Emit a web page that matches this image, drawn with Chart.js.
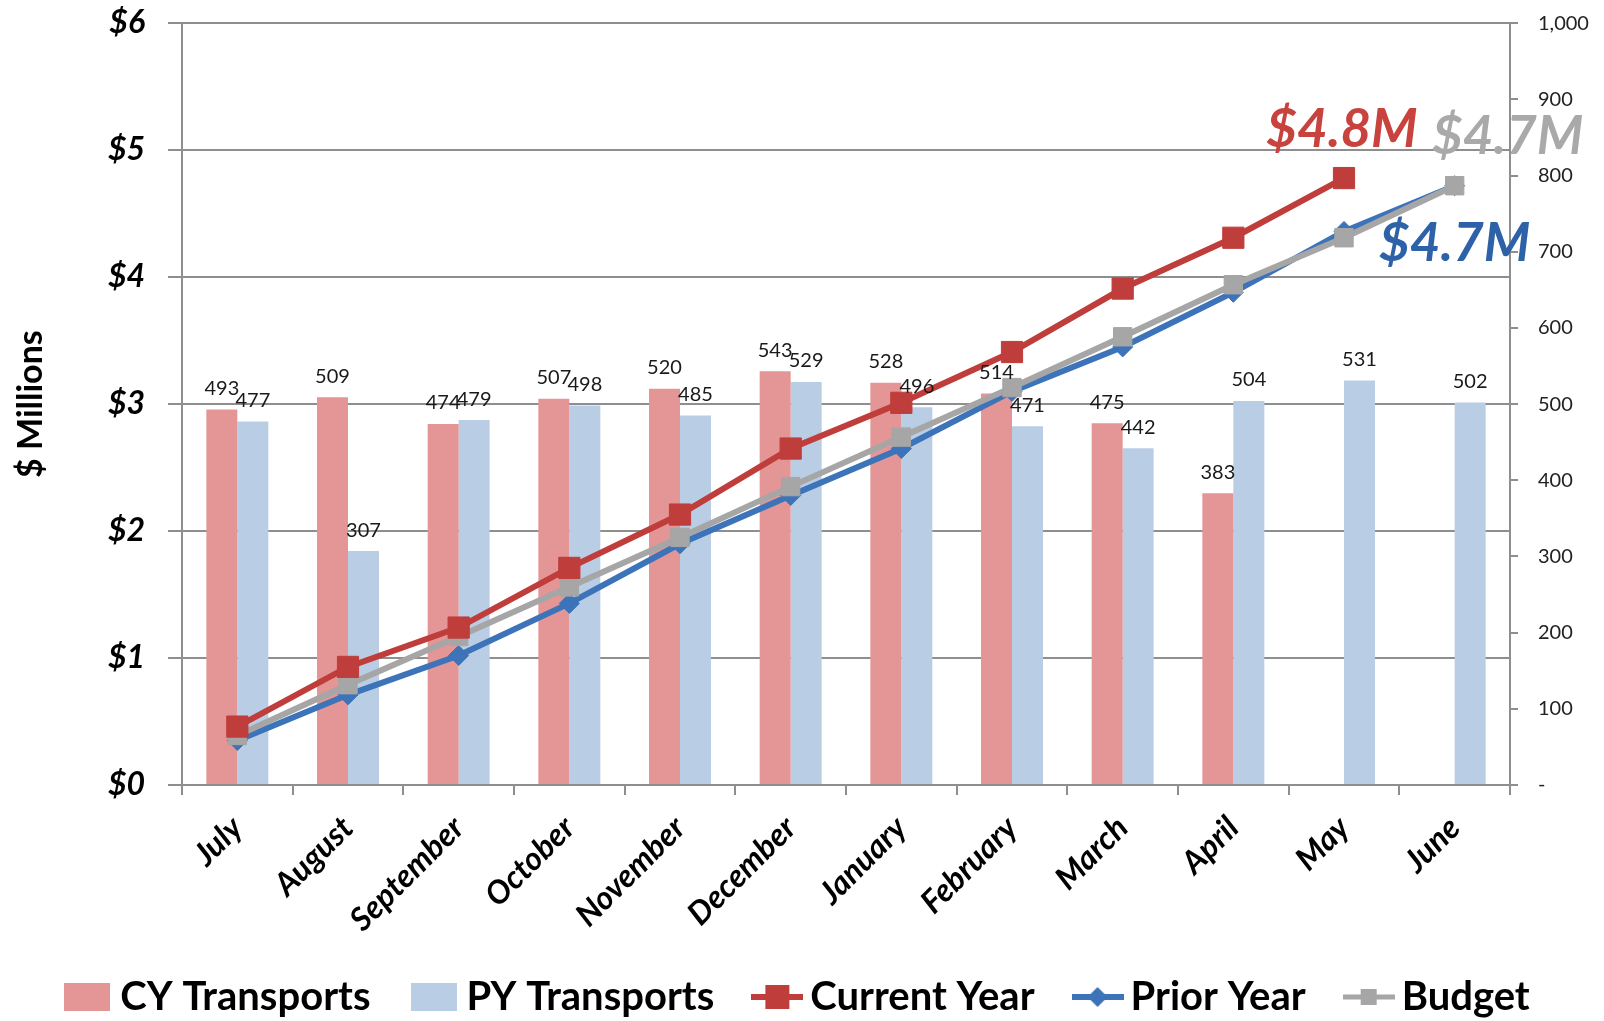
<!DOCTYPE html>
<html lang="en">

<head>
    <meta charset="UTF-8" />
    <title>Transports</title>
    <script src="https://cdn.jsdelivr.net/npm/chart.js"></script>
    <style>
        html, body {
            margin: 0;
            padding: 0;
            background: #fff;
        }

        #wrap {
            width: 1604px;
            height: 1021px;
        }
    </style>
</head>

<body>

    <div id="wrap"><canvas id="grafico"></canvas></div>

    <script>
        const meses = ['July', 'August', 'September', 'October', 'November', 'December',
            'January', 'February', 'March', 'April', 'May', 'June'];

        // transportes (eje derecho)
        const cyTransports = [493, 509, 474, 507, 520, 543, 528, 514, 475, 383, null, null];
        const pyTransports = [477, 307, 479, 498, 485, 529, 496, 471, 442, 504, 531, 502];

        // acumulado en $ millones (eje izquierdo)
        const currentYear = [0.46, 0.93, 1.24, 1.71, 2.13, 2.65, 3.01, 3.41, 3.91, 4.31, 4.78, null];
        const priorYear = [0.35, 0.71, 1.02, 1.43, 1.90, 2.28, 2.65, 3.10, 3.45, 3.88, 4.36, 4.72];
        const budget = [0.39, 0.79, 1.17, 1.56, 1.95, 2.35, 2.74, 3.13, 3.53, 3.94, 4.31, 4.72];

        const ticksIzq = [0, 1, 2, 3, 4, 5, 6];
        const ticksDer = [0, 100, 200, 300, 400, 500, 600, 700, 800, 900, 1000];

        const etiquetasFinales = ['$4.8M', '$4.7M', '$4.7M']; // current, budget, prior

        const ROJO_BARRA = '#E39695';
        const AZUL_BARRA = '#B9CDE5';
        const ROJO = '#BF3D3A';
        const AZUL = '#3C73B9';
        const GRIS = '#A6A6A6';
        const LINEA_EJE = '#8E8E8E';
        const FUENTE = 'Lato, "Open Sans", sans-serif';

        // iconos de la leyenda
        function iconoBarra(color) {
            const c = document.createElement('canvas');
            c.width = 46; c.height = 28;
            const g = c.getContext('2d');
            g.fillStyle = color;
            g.fillRect(0, 0, 46, 28);
            return c;
        }

        function iconoLinea(color, forma, tam, grosor) {
            const c = document.createElement('canvas');
            c.width = 52; c.height = 28;
            const g = c.getContext('2d');
            g.strokeStyle = color;
            g.fillStyle = color;
            g.lineWidth = grosor;
            g.beginPath();
            g.moveTo(0, 14); g.lineTo(52, 14);
            g.stroke();
            if (forma === 'rect') {
                g.fillRect(26 - tam / 2, 14 - tam / 2, tam, tam);
            } else {
                g.beginPath();
                g.moveTo(26, 14 - tam / 2); g.lineTo(26 + tam / 2, 14);
                g.lineTo(26, 14 + tam / 2); g.lineTo(26 - tam / 2, 14);
                g.closePath();
                g.fill();
            }
            return c;
        }

        const iconos = [
            iconoBarra(ROJO_BARRA),
            iconoBarra(AZUL_BARRA),
            iconoLinea(ROJO, 'rect', 24, 6),
            iconoLinea(AZUL, 'diamond', 20, 6),
            iconoLinea(GRIS, 'rect', 16, 5)
        ];

        const etiquetasBarras = {
            id: 'etiquetasBarras',
            afterLayout(chart) {
                // bajar un poco la leyenda
                chart.legend.top += 6;
                chart.legend.bottom += 6;
            },
            afterDatasetsDraw(chart) {
                const ctx = chart.ctx;
                ctx.save();
                ctx.font = '20px ' + FUENTE;
                ctx.fillStyle = '#1a1a1a';
                ctx.textAlign = 'center';
                ctx.textBaseline = 'middle';
                [0, 1].forEach(i => {
                    chart.getDatasetMeta(i).data.forEach((barra, j) => {
                        const v = chart.data.datasets[i].data[j];
                        if (v === null) return;
                        ctx.fillText(v, barra.x, barra.y - 21);
                    });
                });

                // totales al final de cada linea
                const finales = [
                    { serie: 2, color: '#C8423E', dx: -2, dy: -48 },
                    { serie: 4, color: '#A9A9A9', dx: 53, dy: -49 },
                    { serie: 3, color: '#2E62A8', dx: 0, dy: 58 }
                ];
                ctx.font = 'italic bold 53px ' + FUENTE;
                finales.forEach((f, k) => {
                    const datos = chart.data.datasets[f.serie].data;
                    let ultimo = datos.length - 1;
                    while (datos[ultimo] === null) ultimo--;
                    const p = chart.getDatasetMeta(f.serie).data[ultimo];
                    ctx.fillStyle = f.color;
                    ctx.fillText(etiquetasFinales[k], p.x + f.dx, p.y + f.dy);
                });
                ctx.restore();
            }
        };

        const ctx = document.getElementById('grafico').getContext('2d');
        const grafico = new Chart(ctx, {
            type: 'bar',
            data: {
                labels: meses,
                datasets: [{
                    type: 'bar',
                    label: 'CY Transports',
                    data: cyTransports,
                    backgroundColor: ROJO_BARRA,
                    yAxisID: 'y1',
                    order: 4,
                    categoryPercentage: 0.56,
                    barPercentage: 1
                }, {
                    type: 'bar',
                    label: 'PY Transports',
                    data: pyTransports,
                    backgroundColor: AZUL_BARRA,
                    yAxisID: 'y1',
                    order: 5,
                    categoryPercentage: 0.56,
                    barPercentage: 1
                }, {
                    type: 'line',
                    label: 'Current Year',
                    data: currentYear,
                    borderColor: ROJO,
                    backgroundColor: ROJO,
                    borderWidth: 6,
                    pointStyle: 'rect',
                    pointRadius: 15,
                    pointBackgroundColor: ROJO,
                    pointBorderColor: ROJO,
                    pointBorderWidth: 1,
                    tension: 0,
                    yAxisID: 'y',
                    order: 1
                }, {
                    type: 'line',
                    label: 'Prior Year',
                    data: priorYear,
                    borderColor: AZUL,
                    backgroundColor: AZUL,
                    borderWidth: 6,
                    pointStyle: 'rectRot',
                    pointRadius: 10,
                    pointBackgroundColor: AZUL,
                    pointBorderColor: AZUL,
                    pointBorderWidth: 1,
                    tension: 0,
                    yAxisID: 'y',
                    order: 3
                }, {
                    type: 'line',
                    label: 'Budget',
                    data: budget,
                    borderColor: GRIS,
                    backgroundColor: GRIS,
                    borderWidth: 6,
                    pointStyle: 'rect',
                    pointRadius: 13,
                    pointBackgroundColor: GRIS,
                    pointBorderColor: GRIS,
                    pointBorderWidth: 1,
                    tension: 0,
                    yAxisID: 'y',
                    order: 2
                }]
            },
            options: {
                responsive: true,
                maintainAspectRatio: false,
                animation: false,
                layout: {
                    padding: { top: 23, left: 0, right: 0, bottom: 0 }
                },
                plugins: {
                    tooltip: { enabled: false },
                    legend: {
                        position: 'bottom',
                        labels: {
                            usePointStyle: true,
                            pointStyleWidth: 26,
                            padding: 0,
                            color: '#000',
                            font: { family: FUENTE, size: 40, weight: 'bold' },
                            generateLabels(chart) {
                                const items = Chart.defaults.plugins.legend.labels.generateLabels(chart);
                                items.forEach(it => {
                                    it.pointStyle = iconos[it.datasetIndex];
                                    if (it.datasetIndex < 4) it.text += '\u2003\u2002';
                                });
                                return items.sort((a, b) => a.datasetIndex - b.datasetIndex);
                            }
                        }
                    }
                },
                scales: {
                    x: {
                        grid: {
                            offset: true,
                            drawOnChartArea: false,
                            tickLength: 10,
                            color: LINEA_EJE,
                            lineWidth: 2
                        },
                        border: { color: LINEA_EJE, width: 2 },
                        ticks: {
                            color: '#000',
                            font: { family: FUENTE, size: 32, weight: 'bold', style: 'italic' },
                            minRotation: 45,
                            maxRotation: 45,
                            autoSkip: false,
                            padding: 14
                        },
                        afterFit(scale) { scale.height = 186; }
                    },
                    y: {
                        position: 'left',
                        min: 0,
                        max: 6,
                        afterBuildTicks(scale) { scale.ticks = ticksIzq.map(v => ({ value: v })); },
                        ticks: {
                            color: '#000',
                            padding: 23,
                            font: { family: FUENTE, size: 32, weight: 'bold', style: 'italic', lineHeight: 0.01 },
                            callback: v => '$' + v
                        },
                        grid: { color: LINEA_EJE, lineWidth: 2, tickLength: 14 },
                        border: { color: LINEA_EJE, width: 2 },
                        title: {
                            display: true,
                            text: '$ Millions',
                            color: '#000',
                            font: { family: FUENTE, size: 34, weight: 'bold' },
                            padding: { top: 11, bottom: 0 }
                        },
                        afterFit(scale) { scale.width = 182; }
                    },
                    y1: {
                        position: 'right',
                        min: 0,
                        max: 1000,
                        afterBuildTicks(scale) { scale.ticks = ticksDer.map(v => ({ value: v })); },
                        ticks: {
                            color: '#222',
                            padding: 20,
                            font: { family: FUENTE, size: 20, lineHeight: 0.01 },
                            callback: v => v === 0 ? '-' : v.toLocaleString('en-US')
                        },
                        grid: { drawOnChartArea: false, color: LINEA_EJE, lineWidth: 2, tickLength: 8 },
                        border: { color: LINEA_EJE, width: 2 },
                        afterFit(scale) { scale.width = 94; }
                    }
                }
            },
            plugins: [etiquetasBarras]
        });
    </script>

</body>

</html>
